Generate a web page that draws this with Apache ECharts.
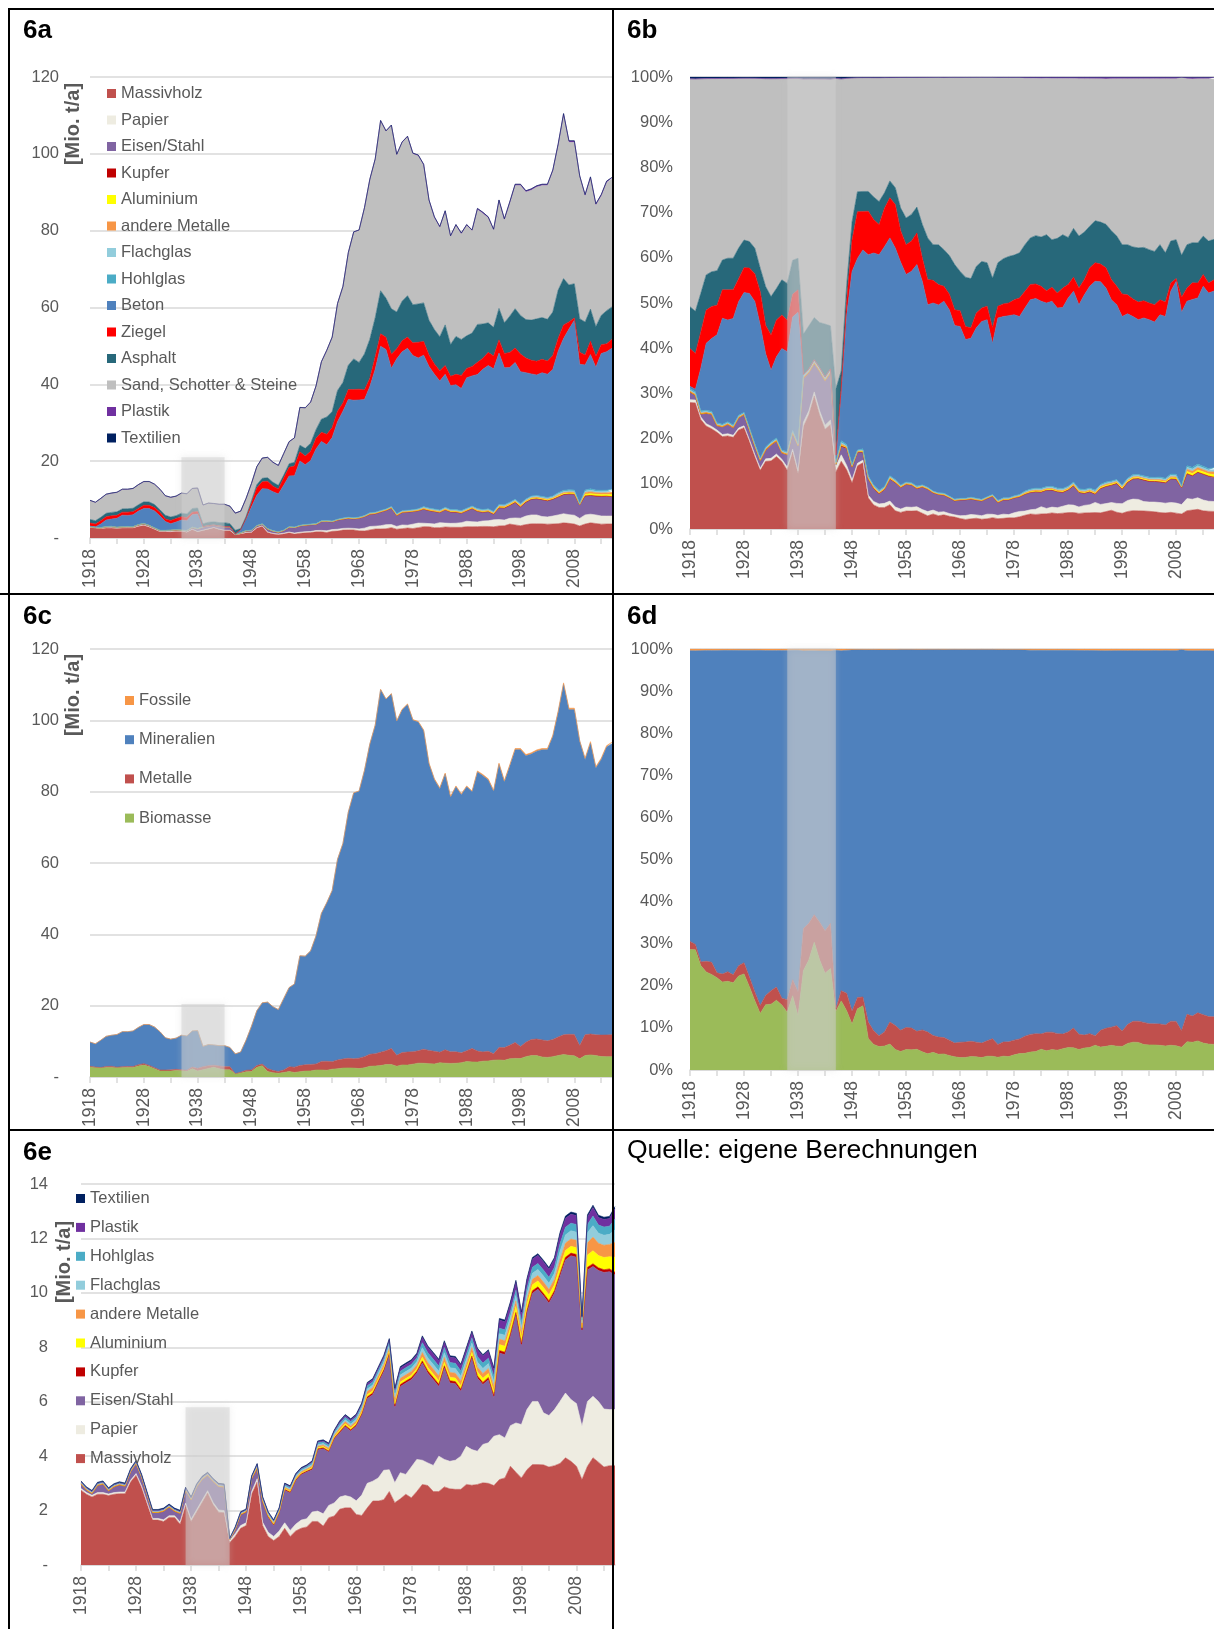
<!DOCTYPE html>
<html><head><meta charset="utf-8">
<script src="https://cdn.jsdelivr.net/npm/echarts@6.0.0/dist/echarts.min.js"></script>
<style>
html,body{margin:0;padding:0;background:#fff;overflow:hidden;width:1214px;height:1629px}
#c{position:absolute;left:0;top:0;width:1214px;height:1629px}
.ln{position:absolute;background:#000;z-index:5}
</style></head><body>
<div id="c"></div>
<div class="ln" style="left:8px;top:8px;width:2px;height:1621px"></div>
<div class="ln" style="left:8px;top:8px;width:1206px;height:2px"></div>
<div class="ln" style="left:612px;top:8px;width:2px;height:1621px"></div>
<div class="ln" style="left:0px;top:593px;width:1214px;height:2px"></div>
<div class="ln" style="left:8px;top:1129px;width:1206px;height:2px"></div>
<script>
const FONT = "'Liberation Sans', Arial, sans-serif";
const years = Array.from({length: 98}, (_, i) => String(1918 + i));

const massivholz = [2.75,2.6,2.5,2.6,2.6,2.55,2.6,2.62,2.62,3.05, 3.3,2.85,2.25,1.65,1.65,1.6,1.75,1.75,1.5,2.2, 1.6,1.95,2.3,2.65,2.22,1.94,1.92,0.82,1.05,1.35, 1.45,2.6,3.05,1.45,1.05,0.9,1.05,1.35,1.05,1.25, 1.35,1.4,1.6,1.6,1.43,1.74,1.8,2.05,2.1,2.1, 1.86,1.82,2.1,2.35,2.35,2.4,2.7,2.29,2.43,2.6, 2.47,2.7,2.96,2.92,2.7,2.7,2.87,2.8,2.78,2.78, 2.96,2.93,2.96,3.02,3.0,2.92,3.14,3.2,3.63,3.41, 3.2,3.5,3.69,3.69,3.68,3.6,3.65,3.73,3.94,3.81, 3.63,3.14,3.63,3.94,3.78,3.6,3.65,3.65];
const papier = [.06,.06,.06,.06,.06,.06,.06,.06,.06,.06, .06,.06,.06,.06,.06,.06,.06,.06,.08,.08, .08,.08,.08,.08,.08,.08,.08,.08,.1,.1, .1,.1,.12,.12,.15,.15,.2,.2,.22,.25, .3,.3,.35,.38,.45,.45,.48,.45,.45,.4, .5,.75,.9,.73,.85,1.08,.8,.73,.96,.73, 1.13,1.18,.89,.83,.96,1.3,1.01,1.01,1.07,1.22, 1.4,1.31,1.22,1.41,1.49,1.81,1.65,1.47,1.49,1.81, 1.96,2.21,2.32,2.32,1.91,1.89,2.06,2.28,2.38,2.27, 2.3,1.96,2.38,2.26,2.23,2.13,2.06,2.06];
const eisen = [.15,.08,.05,.25,.3,.1,.2,.25,.2,.3, .35,.3,.25,.2,.2,.3,.3,.15,.3,.45, .7,.82,.75,.55,.75,.85,.85,.02,.12,.38, .38,.45,.35,.73,.55,.4,.65,1.2,1.38,1.6, 1.67,1.72,1.55,2.25,2.39,1.96,2.35,2.35,2.53,2.42, 2.74,2.94,3.12,3.18,3.49,3.63,4.23,2.75,3.17,3.36, 3.21,3.17,3.57,3.3,3.15,2.56,3.36,2.88,2.81,2.38, 2.63,3.36,2.69,2.2,2.32,1.41,3.0,3.06,3.28,3.97, 2.87,3.54,3.98,4.12,4.3,4.13,4.28,4.59,4.89,5.28, 5.38,3.5,4.83,4.77,4.81,5.02,5.07,4.95];
const kupfer = [.02,.02,.02,.02,.02,.02,.02,.02,.02,.02, .02,.02,.02,.02,.02,.02,.02,.02,.02,.02, .02,.02,.02,.02,.02,.02,.02,.01,.02,.02, .02,.02,.03,.03,.03,.03,.03,.03,.03,.03, .03,.03,.04,.04,.04,.04,.04,.05,.05,.05, .05,.05,.06,.06,.06,.06,.06,.07,.07,.07, .07,.07,.08,.08,.08,.08,.08,.08,.08,.08, .08,.08,.08,.08,.08,.08,.09,.09,.09,.09, .09,.09,.09,.09,.09,.09,.09,.1,.1,.1, .1,.04,.1,.1,.1,.1,.1,.1];
const aluminium = [0,0,0,0,0,0,0,0,0,0, 0,0,0,0,0,0,0,0,0,0, 0,0,0,0,0,0,0,0,.01,.01, .01,.01,.02,.02,.02,.02,.02,.03,.03,.03, .03,.03,.04,.04,.04,.04,.04,.06,.06,.06, .06,.06,.08,.08,.08,.08,.08,.09,.09,.09, .09,.09,.13,.13,.13,.13,.13,.13,.13,.13, .13,.13,.15,.15,.15,.15,.22,.22,.22,.22, .22,.22,.22,.22,.22,.22,.22,.25,.25,.25, .25,.08,.45,.48,.45,.45,.45,.55];
const andereMetalle = [.02,.02,.02,.02,.02,.02,.02,.02,.02,.02, .02,.02,.02,.02,.02,.02,.02,.02,.02,.02, .02,.02,.02,.02,.02,.02,.02,.01,.02,.02, .02,.02,.04,.04,.04,.04,.04,.05,.05,.05, .05,.05,.06,.06,.06,.06,.06,.08,.08,.08, .08,.08,.12,.12,.12,.12,.12,.14,.14,.14, .14,.14,.18,.18,.18,.18,.18,.18,.18,.18, .18,.18,.18,.18,.18,.18,.2,.2,.2,.2, .2,.2,.2,.2,.2,.2,.2,.27,.27,.27, .27,.08,.45,.5,.45,.45,.45,.55];
const flachglas = [.02,.02,.02,.02,.02,.02,.02,.02,.02,.02, .02,.02,.02,.02,.02,.02,.02,.02,.02,.02, .02,.02,.02,.02,.02,.02,.02,.01,.02,.02, .02,.02,.03,.03,.03,.03,.03,.04,.04,.04, .04,.04,.05,.05,.05,.05,.05,.07,.07,.07, .07,.07,.09,.09,.09,.09,.09,.12,.12,.12, .12,.12,.17,.17,.17,.17,.17,.17,.17,.17, .17,.17,.18,.18,.18,.18,.2,.2,.2,.2, .2,.2,.22,.22,.22,.22,.22,.3,.3,.3, .3,.1,.37,.42,.37,.37,.37,.45];
const hohlglas = [.03,.03,.03,.03,.03,.03,.03,.03,.03,.03, .03,.03,.03,.03,.03,.03,.03,.03,.03,.03, .03,.03,.03,.03,.03,.03,.03,.01,.03,.03, .03,.03,.05,.05,.05,.05,.05,.06,.06,.06, .06,.06,.07,.07,.07,.07,.07,.09,.09,.09, .09,.09,.12,.12,.12,.12,.12,.14,.14,.14, .14,.14,.19,.19,.19,.19,.19,.19,.19,.19, .19,.19,.2,.2,.2,.2,.2,.2,.2,.2, .2,.2,.22,.22,.22,.22,.22,.28,.28,.28, .28,.1,.3,.35,.3,.3,.3,.4];
const beton = [.05,.05,.97,1.69,1.89,2.32,2.98,2.86,3.05,3.5, 3.9,4.37,4.41,3.74,2.28,1.68,1.96,2.63,2.55,3.24, 3.77,0,0,0,0,0,0,.05,.73,2.95, 6.06,7.88,9.16,10.28,10.12,9.85,11.68,13.2,13.37,16.75, 15.56,16.55,19.41,20.66,19.72,21.74,25.38,27.81,30.61,30.6, 30.48,30.17,32.82,37.19,42.73,41.5,35.98,40.32,41.34,42.12, 40.12,39.25,39.41,36.82,35.08,33.56,34.61,32.22,32.49,31.78, 33.96,33.84,34.9,36.51,37.29,37.13,39.44,35.65,35.05,35.58, 34.35,32.87,31.78,31.38,32.17,32.07,32.94,36.83,39.53,41.83, 44.15,36.23,32.55,34.92,31.97,35.59,36.04,36.71];
const ziegel = [.82,.74,.83,.84,.83,.78,.8,.85,.82,.71, .81,.83,.86,.94,.69,.83,.89,.87,.8,.65, .65,0,0,0,0,0,0,.05,.1,.31, .99,1.92,1.77,2.02,1.46,1.27,1.87,2.23,2.51,2.38, 2.24,2.37,2.77,2.39,2.74,2.62,2.75,2.16,2.6,2.78, 2.81,2.5,2.15,3.26,3.26,3.18,3.66,2.6,2.88,2.93, 3.31,4.09,3.6,2.99,2.67,2.68,2.3,2.44,2.7,3.41, 2.45,2.48,3.17,2.88,3.43,3.3,3.43,3.74,3.94,3.78, 4.6,3.8,3.55,3.57,3.5,3.41,3.64,3.39,3.53,1.86, .62,3.13,2.59,3.47,2.87,2.32,2.05,2.33];
const asphalt = [.91,.87,.88,.89,.9,.91,.84,.89,.9,.94, .9,.86,.79,.66,.94,.9,.76,.91,.94,.97, .91,.77,.87,.84,.88,1.03,.79,.95,.25,.37, .57,.82,.92,.92,.99,.96,.75,.93,.97,1.7, 2.0,2.09,2.26,3.4,4.5,4.13,5.38,5.31,6.32,7.97, 6.97,9.37,10.18,10.16,11.2,10.17,11.82,9.59,10.31,10.77, 9.92,9.97,10.02,9.06,8.95,8.84,10.57,8.27,9.87,9.37, 8.48,8.66,9.87,8.9,7.69,7.47,8.18,7.98,9.45,10.22, 10.04,10.03,10.45,11.01,10.87,10.87,11.3,12.52,12.05,9.62, 8.9,8.72,8.58,8.35,7.74,7.6,8.64,8.41];
const sand = [4.95,4.79,4.9,4.96,5.01,5.07,5.11,5.06,5.14,5.23, 5.27,5.32,5.27,5.34,5.07,5.12,5.07,5.22,5.22,5.2, 5.18,4.85,4.97,4.75,4.74,4.77,4.53,4.46,4.53,4.72, 4.52,4.69,5.23,5.28,5.19,5.17,5.6,5.72,6.34,9.81, 10.53,10.71,11.33,14.89,17.34,19.33,22.6,24.92,29.25,32.98, 34.39,37.99,41.54,41.24,44.23,43.45,47.72,40.89,41.28,41.36, 39.31,38.61,35.85,31.08,29.09,28.46,29.48,28.08,28.88,27.46, 28.72,26.62,29.89,28.78,27.28,25.26,27.89,26.73,29.39,32.06, 33.81,33.18,33.82,34.3,34.36,34.82,36.62,37.65,42.57,37.12, 36.81,37.07,32.81,34.06,31.57,31.11,33.36,33.26];
const plastik = [0,0,0,0,0,0,0,0,0,0, 0,0,0,0,0,0,0,0,0,0, 0,0,0,0,0,0,0,0,0,0, 0,0,.01,.01,.01,.01,.01,.02,.02,.02, .02,.02,.04,.04,.04,.04,.04,.06,.06,.06, .06,.06,.08,.08,.08,.08,.08,.12,.12,.12, .12,.12,.2,.2,.2,.2,.2,.2,.2,.2, .2,.2,.26,.26,.26,.26,.3,.3,.3,.3, .3,.3,.3,.3,.3,.3,.3,.33,.33,.33, .33,.1,.28,.32,.28,.28,.28,.38];
const textilien = [.04,.04,.04,.04,.04,.04,.04,.04,.04,.04, .04,.04,.04,.04,.04,.04,.04,.04,.04,.04, .04,.04,.04,.04,.04,.04,.04,.02,.03,.03, .03,.03,.03,.03,.03,.03,.03,.03,.03,.03, .03,.03,.03,.03,.03,.03,.03,.04,.04,.04, .04,.04,.04,.04,.04,.04,.04,.05,.05,.05, .05,.05,.05,.05,.05,.05,.05,.05,.05,.05, .05,.05,.05,.05,.05,.05,.06,.06,.06,.06, .06,.06,.06,.06,.06,.06,.06,.08,.08,.08, .08,.03,.08,.08,.08,.08,.08,.08];

const COL = {
  'Massivholz':'#c0504d','Papier':'#eeece1','Eisen/Stahl':'#8064a2','Kupfer':'#c00000',
  'Aluminium':'#ffff00','andere Metalle':'#f79646','Flachglas':'#92cddc','Hohlglas':'#4bacc6',
  'Beton':'#4f81bd','Ziegel':'#ff0000','Asphalt':'#27687a','Sand, Schotter & Steine':'#bfbfbf',
  'Plastik':'#7030a0','Textilien':'#002060',
  'Biomasse':'#9bbb59','Metalle':'#c0504d','Mineralien':'#4f81bd','Fossile':'#f79646'
};

const matA = [['Massivholz',massivholz],['Papier',papier],['Eisen/Stahl',eisen],['Kupfer',kupfer],
  ['Aluminium',aluminium],['andere Metalle',andereMetalle],['Flachglas',flachglas],['Hohlglas',hohlglas],
  ['Beton',beton],['Ziegel',ziegel],['Asphalt',asphalt],['Sand, Schotter & Steine',sand],
  ['Plastik',plastik],['Textilien',textilien]];
const matE = [['Massivholz',massivholz],['Papier',papier],['Eisen/Stahl',eisen],['Kupfer',kupfer],
  ['Aluminium',aluminium],['andere Metalle',andereMetalle],['Flachglas',flachglas],['Hohlglas',hohlglas],
  ['Plastik',plastik],['Textilien',textilien]];

const sumOf = arrs => years.map((_, i) => arrs.reduce((s, a) => s + a[i], 0));
const biomasse = sumOf([massivholz, papier]);
const metalle = sumOf([eisen, kupfer, aluminium, andereMetalle]);
const mineralien = sumOf([flachglas, hohlglas, beton, ziegel, asphalt, sand]);
const fossile = sumOf([plastik, textilien]);
const matC = [['Biomasse',biomasse],['Metalle',metalle],['Mineralien',mineralien],['Fossile',fossile]];

const totA = sumOf(matA.map(m => m[1]));
const totC = sumOf(matC.map(m => m[1]));
const pct = (arr, tot) => arr.map((v, i) => +(v / tot[i] * 100).toFixed(4));

const grids = [
  {left:90, top:77, width:522, height:461},
  {left:690, top:77, width:526, height:452},
  {left:90, top:649, width:522, height:428},
  {left:690, top:649, width:526, height:421},
  {left:81, top:1184, width:534, height:381}
];
const lab = {fontSize:16, color:'#595959', fontFamily:FONT};
function xAx(g){ return {type:'category', gridIndex:g, data:years, boundaryGap:false,
  axisLine:{show:true, lineStyle:{color:'#d9d9d9', width:1.5}},
  axisTick:{show:true, interval:4, length:6, lineStyle:{color:'#d9d9d9', width:1.5}},
  axisLabel:Object.assign({}, lab, {interval:9, rotate:90, margin:11, fontSize:17.5}), splitLine:{show:false}}; }
function yAx(g, max, interval, fmt, margin){ return {type:'value', gridIndex:g, min:0, max, interval,
  axisLine:{show:false}, axisTick:{show:false},
  splitLine:{show:true, lineStyle:{color:'#d9d9d9', width:1.5}},
  axisLabel:Object.assign({formatter:fmt, margin}, lab, {fontSize:16.5})}; }
const dashZero = v => v === 0 ? '-' : String(v);
const pctFmt = v => v + '%';

const series = [];
function addArea(list, g, stack, toPct, tot){
  list.forEach(([name, data]) => {
    const c = COL[name];
    series.push({name, type:'line', xAxisIndex:g, yAxisIndex:g, stack,
      data: toPct ? pct(data, tot) : data, symbol:'none', showSymbol:false, silent:true,
      lineStyle:{width:0.6, color:c}, itemStyle:{color:c}, areaStyle:{color:c, opacity:1}, z:2});
  });
}
addArea(matA, 0, 'a', false);
addArea(matA, 1, 'b', true, totA);
addArea(matC, 2, 'c', false);
addArea(matC, 3, 'd', true, totC);
addArea(matE, 4, 'e', false);

function band(idx, x0, x1, ytop){
  series[idx].markArea = {silent:true, z:10,
    itemStyle:{color:'rgba(208,208,208,0.5)', shadowBlur:7, shadowColor:'rgba(200,200,200,0.6)'},
    data:[[{xAxis:x0, yAxis:0},{xAxis:x1, yAxis:ytop}]]};
}
band(13, '1935', '1943', 21);
band(27, '1936', '1945', 100);
band(31, '1935', '1943', 20.5);
band(35, '1936', '1945', 100);
band(45, '1937', '1945', 5.8);

const legText = {fontSize:16.5, color:'#595959', fontFamily:FONT, lineHeight:16};
const legBase = {orient:'vertical', icon:'rect', itemWidth:9, itemHeight:9, selectedMode:false, textStyle:legText, padding:0};

const txt = (x, y, text, size, weight, fill, rot, align) => ({type:'text', x, y, rotation:rot || 0, silent:true,
  style:{text, fontSize:size, fontWeight:weight, fontFamily:FONT, fill, align:align || 'left', verticalAlign:'middle'}});

const chart = echarts.init(document.getElementById('c'), null, {renderer:'canvas'});
chart.setOption({
  animation:false,
  backgroundColor:'#fff',
  grid: grids,
  xAxis: [0,1,2,3,4].map(xAx),
  yAxis: [
    yAx(0, 120, 20, dashZero, 31),
    yAx(1, 100, 10, pctFmt, 17),
    yAx(2, 120, 20, dashZero, 31),
    yAx(3, 100, 10, pctFmt, 17),
    yAx(4, 14, 2, dashZero, 33)
  ],
  legend: [
    Object.assign({}, legBase, {data: matA.map(m => m[0]), left:107, top:85, itemGap:9.5}),
    Object.assign({}, legBase, {data:['Fossile','Mineralien','Metalle','Biomasse'], left:125, top:692, itemGap:22.2}),
    Object.assign({}, legBase, {data: matE.map(m => m[0]).reverse(), left:76, top:1190, itemGap:11.9})
  ],
  graphic: [
    txt(23, 31, '6a', 26, 'bold', '#000'),
    txt(627, 31, '6b', 26, 'bold', '#000'),
    txt(23, 617, '6c', 26, 'bold', '#000'),
    txt(627, 617, '6d', 26, 'bold', '#000'),
    txt(23, 1153, '6e', 26, 'bold', '#000'),
    txt(73, 124, '[Mio. t/a]', 20, 'bold', '#595959', Math.PI/2, 'center'),
    txt(73, 695, '[Mio. t/a]', 20, 'bold', '#595959', Math.PI/2, 'center'),
    txt(64, 1262, '[Mio. t/a]', 20, 'bold', '#595959', Math.PI/2, 'center'),
    txt(627, 1151, 'Quelle: eigene Berechnungen', 26.5, 'normal', '#000')
  ],
  series
});
</script>
</body></html>
